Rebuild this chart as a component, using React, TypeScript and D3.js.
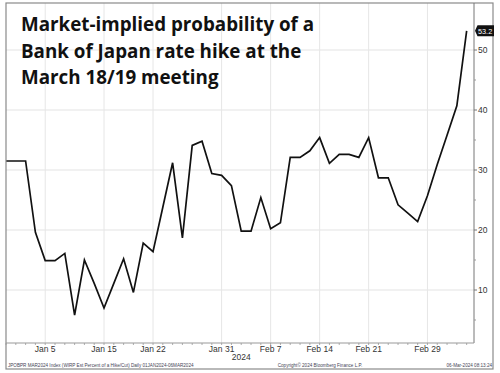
import React from "react";
import * as d3 from "d3";

const dates: string[] = [
  "Jan 1","Jan 2","Jan 3","Jan 4","Jan 5","Jan 8","Jan 9","Jan 10","Jan 11","Jan 12",
  "Jan 15","Jan 16","Jan 17","Jan 18","Jan 19","Jan 22","Jan 23","Jan 24","Jan 25","Jan 26",
  "Jan 29","Jan 30","Jan 31","Feb 1","Feb 2","Feb 5","Feb 6","Feb 7","Feb 8","Feb 9",
  "Feb 12","Feb 13","Feb 14","Feb 15","Feb 16","Feb 19","Feb 20","Feb 21","Feb 22","Feb 23",
  "Feb 26","Feb 27","Feb 28","Feb 29","Mar 1","Mar 4","Mar 5","Mar 6",
];

const probability: number[] = [
  31.5, 31.5, 31.5, 19.6, 14.9, 14.9, 16.1, 5.8, 15.0, 11.1,
  7.0, 11.1, 15.2, 9.6, 17.8, 16.4, 23.8, 31.2, 18.7, 34.1,
  34.8, 29.4, 29.1, 27.4, 19.8, 19.8, 25.4, 20.2, 21.2, 32.1,
  32.1, 33.2, 35.4, 31.1, 32.6, 32.6, 32.1, 35.4, 28.7, 28.7,
  24.2, 22.8, 21.4, 25.7, 30.9, 35.8, 40.7, 53.2,
];

const xTickLabels: string[] = ["Jan 5", "Jan 15", "Jan 22", "Jan 31", "Feb 7", "Feb 14", "Feb 21", "Feb 29"];
const yTicks: number[] = [10, 20, 30, 40, 50];
const yMinorTicks: number[] = [5, 15, 25, 35, 45];
const titleLines: string[] = [
  "Market-implied probability of a",
  "Bank of Japan rate hike at the",
  "March 18/19 meeting",
];
const footerLeft = "JPOBPR MAR2024 Index (WIRP Est Percent of a Hike/Cut)  Daily 01JAN2024-06MAR2024";
const footerMid = "Copyright\u00A9 2024 Bloomberg Finance L.P.";
const footerRight = "06-Mar-2024 08:13:24";
const yearLabel = "2024";
const lastLabel = "53.2";

export default function App() {
  const W = 500, H = 373;
  const left = 6, right = 474, top = 3, bottom = 343;
  const x = d3.scaleLinear().domain([0, 47.75]).range([left, right]);
  const y = d3.scaleLinear().domain([0, 50]).range([350, 50]);
  const line = d3.line<number>().x((_, i) => x(i)).y((d) => y(d));
  const lastIdx = probability.length - 1;
  const lastY = y(probability[lastIdx]);
  const axisFont = "'Liberation Sans', Arial, sans-serif";

  return (
    <svg width={W} height={H} style={{ position: "absolute", left: 0, top: 0, background: "#fff" }}>
      <rect x={0} y={0} width={W} height={H} fill="#fff" />
      {/* grid */}
      {yTicks.map((t) => (
        <line key={"hg" + t} x1={left} x2={right} y1={y(t)} y2={y(t)} stroke="#e3e3e3" strokeWidth={1} />
      ))}
      {xTickLabels.map((lab) => {
        const i = dates.indexOf(lab);
        return <line key={"vg" + lab} x1={x(i)} x2={x(i)} y1={top} y2={bottom} stroke="#e6e6e6" strokeWidth={1} />;
      })}
      {/* title */}
      {titleLines.map((t, k) => (
        <text key={t} x={21} y={31 + k * 26.5} fontFamily="'Open Sans', sans-serif" fontWeight={700} fontSize={18.8} fill="#111">
          {t}
        </text>
      ))}
      {/* series */}
      <path d={line(probability) || ""} fill="none" stroke="#111" strokeWidth={1.7} strokeLinejoin="miter" />
      {/* frame */}
      <rect x={left} y={top} width={493 - left} height={369 - top} fill="none" stroke="#8a8a8a" strokeWidth={1.2} />
      <line x1={right} x2={right} y1={top} y2={bottom} stroke="#777" strokeWidth={1} />
      <line x1={left} x2={right} y1={bottom} y2={bottom} stroke="#999" strokeWidth={1} />
      {/* x ticks */}
      {dates.map((d, i) => (
        <line key={"xt" + i} x1={x(i)} x2={x(i)} y1={bottom} y2={bottom + 2} stroke="#999" strokeWidth={0.8} />
      ))}
      {xTickLabels.map((lab) => {
        const i = dates.indexOf(lab);
        return (
          <text key={"xl" + lab} x={x(i)} y={352} textAnchor="middle" fontFamily={axisFont} fontSize={8.5} fill="#333">
            {lab}
          </text>
        );
      })}
      <text x={x(dates.indexOf("Feb 2"))} y={360} textAnchor="middle" fontFamily={axisFont} fontSize={8.5} fill="#333">
        {yearLabel}
      </text>
      {/* y ticks */}
      {yTicks.map((t) => (
        <g key={"yt" + t}>
          <line x1={right} x2={right + 3} y1={y(t)} y2={y(t)} stroke="#777" />
          <text x={right + 4} y={y(t) + 3} fontFamily={axisFont} fontSize={8.5} fill="#333">
            {t}
          </text>
        </g>
      ))}
      {yMinorTicks.map((t) => (
        <line key={"ym" + t} x1={right} x2={right + 2} y1={y(t)} y2={y(t)} stroke="#999" />
      ))}
      {/* last value label */}
      <path
        d={`M${right + 1},${lastY} L${right + 3.5},${lastY - 5.5} L${494},${lastY - 5.5} L${494},${lastY + 5.5} L${right + 3.5},${lastY + 5.5} Z`}
        fill="#111"
      />
      <text x={right + 4} y={lastY + 3} fontFamily={axisFont} fontSize={7.3} fill="#fff">
        {lastLabel}
      </text>
      {/* footer */}
      <text x={8} y={367} fontFamily={axisFont} fontSize={4.6} fill="#445">{footerLeft}</text>
      <text x={320} y={367} textAnchor="middle" fontFamily={axisFont} fontSize={4.6} fill="#445">{footerMid}</text>
      <text x={492} y={367} textAnchor="end" fontFamily={axisFont} fontSize={4.6} fill="#445">{footerRight}</text>
    </svg>
  );
}
